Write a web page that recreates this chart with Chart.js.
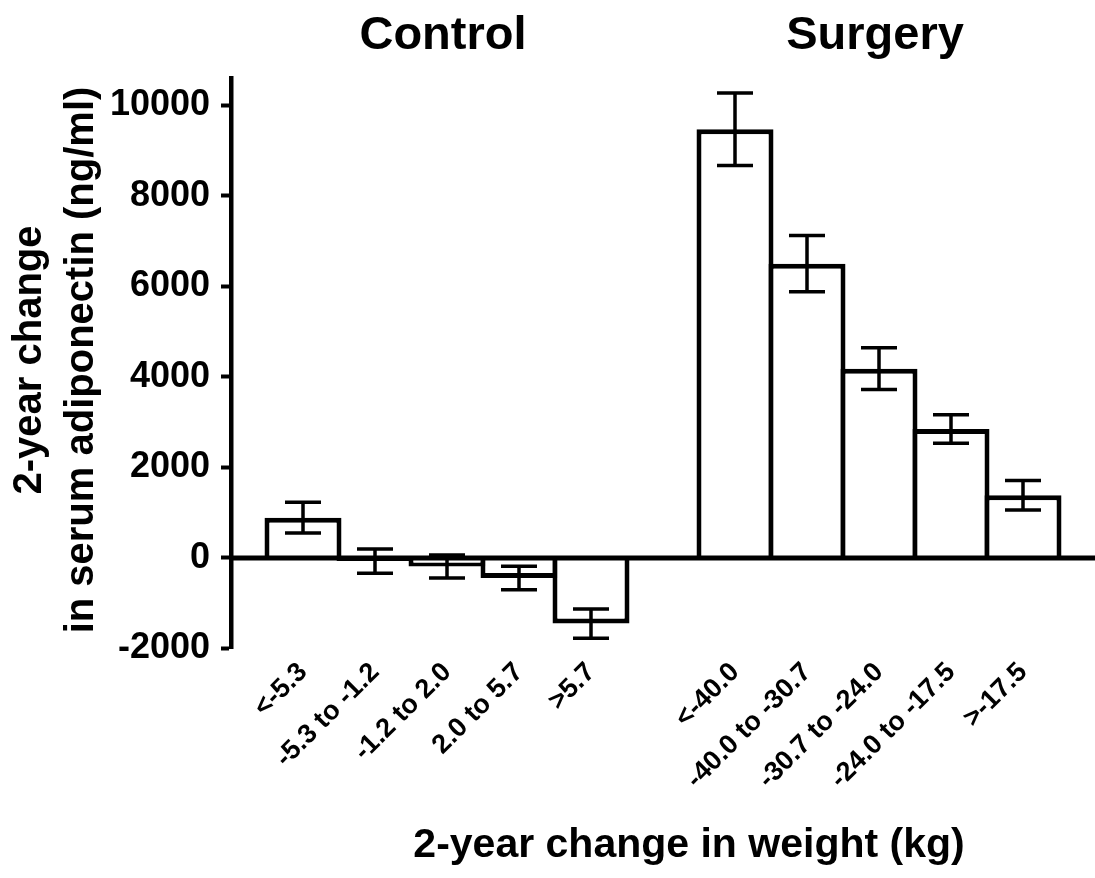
<!DOCTYPE html>
<html>
<head>
<meta charset="utf-8">
<script src="https://cdn.jsdelivr.net/npm/chart.js@4"></script>
<style>
  html, body { margin: 0; padding: 0; background: #fff; }
  canvas { display: block; }
</style>
</head>
<body>
<canvas id="adipoChart" width="1095" height="878"></canvas>
<script>
const controlGroups = ['<-5.3', '-5.3 to -1.2', '-1.2 to 2.0', '2.0 to 5.7', '>5.7'];
const surgeryGroups = ['<-40.0', '-40.0 to -30.7', '-30.7 to -24.0', '-24.0 to -17.5', '>-17.5'];
const controlMeans = [890, -70, -190, -445, -1450];
const controlSem = [340, 270, 255, 260, 325];
const surgeryMeans = [9470, 6500, 4180, 2850, 1385];
const surgerySem = [800, 620, 460, 315, 325];
const yTicks = [-2000, 0, 2000, 4000, 6000, 8000, 10000];
const groupTitles = ['Control', 'Surgery'];
const xTitle = '2-year change in weight (kg)';
const yTitle = ['2-year change', 'in serum adiponectin (ng/ml)'];

// blank slot at each end and one between the two groups
const labels = [''].concat(controlGroups, [''], surgeryGroups, ['']);
const means = [null].concat(controlMeans, [null], surgeryMeans, [null]);
const sems = [null].concat(controlSem, [null], surgerySem, [null]);

const FONT = "'Liberation Sans', Arial, sans-serif";

const extras = {
    id: 'extras',
    afterDatasetsDraw(chart) {
        const ctx = chart.ctx;
        const xs = chart.scales.x;
        const ys = chart.scales.y;
        const area = chart.chartArea;
        const meta = chart.getDatasetMeta(0);
        const zero = ys.getPixelForValue(0);

        ctx.save();
        ctx.strokeStyle = '#000';
        ctx.fillStyle = '#000';

        // zero line
        ctx.lineWidth = 5;
        ctx.beginPath();
        ctx.moveTo(area.left, zero);
        ctx.lineTo(chart.width, zero);
        ctx.stroke();

        // error bars (mean +/- SEM)
        ctx.lineWidth = 3.5;
        meta.data.forEach((bar, i) => {
            if (means[i] === null) return;
            const cx = bar.x;
            const hi = ys.getPixelForValue(means[i] + sems[i]);
            const lo = ys.getPixelForValue(means[i] - sems[i]);
            ctx.beginPath();
            ctx.moveTo(cx, hi); ctx.lineTo(cx, lo);
            ctx.moveTo(cx - 18, hi); ctx.lineTo(cx + 18, hi);
            ctx.moveTo(cx - 18, lo); ctx.lineTo(cx + 18, lo);
            ctx.stroke();
        });

        // group titles over the middle bar of each group
        ctx.font = 'bold 47px ' + FONT;
        ctx.textAlign = 'center';
        ctx.textBaseline = 'alphabetic';
        ctx.fillText(groupTitles[0], xs.getPixelForValue(3) - 4, 49);
        ctx.fillText(groupTitles[1], xs.getPixelForValue(9) - 4, 49);

        // x axis title
        ctx.font = 'bold 41px ' + FONT;
        ctx.fillText(xTitle, (area.left + area.right) / 2 + 26, 857);

        // y axis title, two rotated lines
        ctx.font = 'bold 40px ' + FONT;
        const yc = 360;
        [40.5, 92.5].forEach((bx, k) => {
            ctx.save();
            ctx.translate(bx, yc);
            ctx.rotate(-Math.PI / 2);
            ctx.fillText(yTitle[k], 0, 0);
            ctx.restore();
        });
        ctx.restore();
    }
};

const ctx = document.getElementById('adipoChart').getContext('2d');
new Chart(ctx, {
    type: 'bar',
    data: {
        labels: labels,
        datasets: [{
            data: means,
            backgroundColor: '#fff',
            borderColor: '#000',
            borderWidth: 5,
            borderSkipped: 'start',
            categoryPercentage: 1,
            barPercentage: 77 / 72
        }]
    },
    options: {
        responsive: false,
        animation: false,
        events: [],
        layout: { padding: { top: 78, right: 0, bottom: 0, left: 0 } },
        plugins: {
            legend: { display: false },
            tooltip: { enabled: false }
        },
        scales: {
            x: {
                type: 'category',
                offset: false,
                grid: { display: false, drawTicks: false },
                border: { display: false },
                ticks: {
                    autoSkip: false,
                    minRotation: 45,
                    maxRotation: 45,
                    padding: 8,
                    color: '#000',
                    font: { family: FONT, size: 27, weight: 'bold' }
                },
                afterFit(scale) {
                    scale.height = 229.5;
                    scale.paddingLeft = 0;
                    scale.paddingRight = 0;
                }
            },
            y: {
                min: -2000,
                max: 10600,
                afterBuildTicks(axis) { axis.ticks = yTicks.map(v => ({ value: v })); },
                grid: {
                    drawOnChartArea: false,
                    drawTicks: true,
                    tickLength: 10,
                    tickWidth: 4,
                    tickColor: '#000'
                },
                border: { display: true, color: '#000', width: 4.5 },
                ticks: {
                    padding: 11,
                    color: '#000',
                    font: { family: FONT, size: 36, weight: 'bold' },
                    callback: v => String(v)
                },
                afterFit(scale) {
                    scale.width = 231;
                    scale.paddingTop = 0;
                    scale.paddingBottom = 0;
                }
            }
        }
    },
    plugins: [extras]
});
</script>
</body>
</html>
